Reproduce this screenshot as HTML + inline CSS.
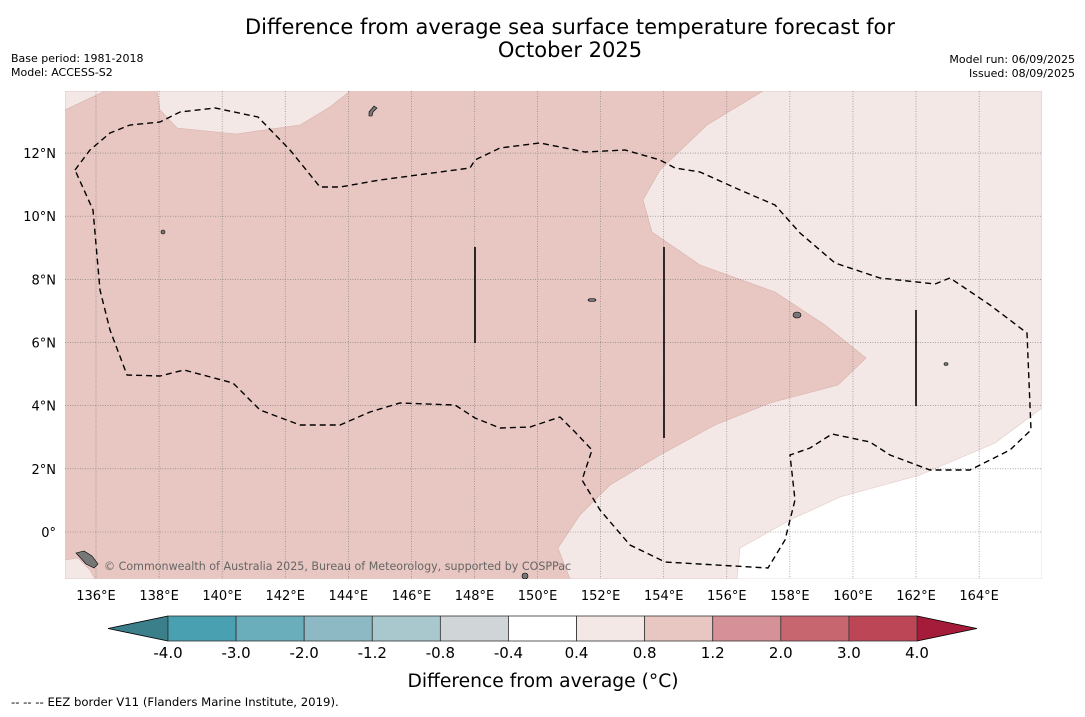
<!DOCTYPE html>
<html><head><meta charset="utf-8"><style>
body{margin:0;background:#fff;width:1085px;height:713px;overflow:hidden;font-family:"DejaVu Sans","Liberation Sans",sans-serif}
</style></head><body>
<svg width="1085" height="713" viewBox="0 0 1085 713" xmlns="http://www.w3.org/2000/svg" font-family="DejaVu Sans, Liberation Sans, sans-serif">
<text x="570" y="34" font-size="21" text-anchor="middle">Difference from average sea surface temperature forecast for</text>
<text x="570" y="57" font-size="21" text-anchor="middle">October 2025</text>
<text x="11" y="62" font-size="11">Base period: 1981-2018</text>
<text x="11" y="76" font-size="11">Model: ACCESS-S2</text>
<text x="1075" y="63" font-size="11" text-anchor="end">Model run: 06/09/2025</text>
<text x="1075" y="77" font-size="11" text-anchor="end">Issued: 08/09/2025</text>
<defs><clipPath id="mc"><rect x="65" y="91" width="977" height="488"/></clipPath></defs>
<g clip-path="url(#mc)" id="map">
<rect x="65" y="91" width="977" height="488" fill="#e8c7c2"/>
<polygon fill="#f4e8e6" stroke="#d8b0ab" stroke-width="0.6" points="763,91 707,125 660,170 643,200 652,232 700,265 775,292 825,325 866,358 838,385 770,403 715,425 660,455 610,485 580,515 558,548 570,579 1042,579 1042,91"/>
<polygon fill="#ffffff" stroke="#e0c8c4" stroke-width="0.6" points="737,579 740,548 790,520 840,497 920,475 995,443 1042,408 1042,579"/>
<polygon fill="#f4e8e6" stroke="#d8b0ab" stroke-width="0.6" points="65,110 105,91 65,91"/>
<polygon fill="#f4e8e6" stroke="#d8b0ab" stroke-width="0.6" points="157,91 160,110 177,128 236,134 300,125 330,107 350,91"/>
<polygon fill="#f4e8e6" stroke="#d8b0ab" stroke-width="0.6" points="65,560 78,558 90,570 95,579 65,579"/>
<g id="grid" stroke="#777" stroke-width="0.6" stroke-dasharray="1,1.5"></g>
<polygon fill="none" stroke="#000" stroke-width="1.4" stroke-dasharray="6,4" points="75,170 90,150 110,133 130,125 160,122 180,112 215,108 258,117 290,150 320,187 340,187 380,180 470,168 475,160 500,148 540,143 585,152 625,150 660,160 675,168 700,172 740,190 775,205 800,233 835,263 880,278 935,284 950,278 990,305 1027,333 1031,430 1010,450 970,470 930,470 890,455 870,442 832,434 810,448 790,455 795,500 785,540 768,568 665,562 630,545 600,510 582,480 592,450 575,432 560,417 530,427 500,428 475,418 455,405 400,403 370,412 340,425 300,425 260,410 233,383 184,370 160,376 127,375 110,330 100,290 93,210"/>
<line x1="475" y1="247" x2="475" y2="343" stroke="#000" stroke-width="1.6"/>
<line x1="664" y1="247" x2="664" y2="438" stroke="#000" stroke-width="1.6"/>
<line x1="916" y1="310" x2="916" y2="406" stroke="#000" stroke-width="1.6"/>
<g fill="#777" stroke="#000" stroke-width="0.6">
<path d="M369,112 l5,-6 l3,2 l-4,4 l-1,4 l-3,0z"/>
<path d="M76,553 l8,-2 l8,5 l6,8 l-4,4 l-8,-4z"/>
<ellipse cx="797" cy="315" rx="4" ry="3"/>
<ellipse cx="592" cy="300" rx="4" ry="1.5"/>
<ellipse cx="163" cy="232" rx="2" ry="2"/>
<ellipse cx="946" cy="364" rx="2" ry="1.5"/>
<ellipse cx="525" cy="576" rx="3" ry="3"/>
</g>
<text x="104" y="570" font-size="11.1" fill="#666">© Commonwealth of Australia 2025, Bureau of Meteorology, supported by COSPPac</text>
</g>
<g id="axes"></g>
<g id="cbar"></g>
<text x="543" y="687" font-size="18.7" text-anchor="middle">Difference from average (°C)</text>
<text x="11" y="706" font-size="11.7">-- -- -- EEZ border V11 (Flanders Marine Institute, 2019).</text>
</svg>
<script>
const lonTicks=[136,138,140,142,144,146,148,150,152,154,156,158,160,162,164];
const latTicks=[12,10,8,6,4,2,0];
const cbarLevels=["-4.0","-3.0","-2.0","-1.2","-0.8","-0.4","0.4","0.8","1.2","2.0","3.0","4.0"];
const cbarColors=["#48a0b0","#6aaebb","#8cb9c4","#a9c8cd","#d0d6d8","#ffffff","#f4e8e6","#e8c7c2","#d69098","#c8666f","#bd4656"];
const NS="http://www.w3.org/2000/svg";
const xLon=l=>96+(l-136)*31.54;
const yLat=l=>532-l*31.58;
function mk(t,a,p){const e=document.createElementNS(NS,t);for(const k in a)e.setAttribute(k,a[k]);p.appendChild(e);return e;}
const grid=document.getElementById('grid'),axes=document.getElementById('axes');
lonTicks.forEach(l=>{const x=xLon(l);
const g=mk('line',{x1:x,x2:x,y1:91,y2:579},grid);


const t=mk('text',{x:x,y:600,'font-size':13,'text-anchor':'middle'},axes);t.textContent=l+'°E';

});
latTicks.forEach(l=>{const y=yLat(l);
const g=mk('line',{x1:65,x2:1042,y1:y,y2:y},grid);


const t=mk('text',{x:56,y:y+5,'font-size':13,'text-anchor':'end'},axes);t.textContent=l===0?'0°':l+'°N';

});
const cb=document.getElementById('cbar');const x0=168,x1=917,w=(x1-x0)/cbarColors.length,y0=616,h=25;
const lt=mk('polygon',{points:`108,${y0+h/2} ${x0},${y0} ${x0},${y0+h}`,fill:'#3a7f8a',stroke:'#000','stroke-width':0.8},cb);


const rt=mk('polygon',{points:`977,${y0+h/2} ${x1},${y0} ${x1},${y0+h}`,fill:'#a51c3a',stroke:'#000','stroke-width':0.8},cb);


cbarColors.forEach((c,i)=>{const r=mk('rect',{x:x0+i*w,y:y0,width:w,height:h,fill:c,stroke:'#333','stroke-width':0.8},cb);

});
cbarLevels.forEach((v,i)=>{const t=mk('text',{x:x0+i*w,y:658,'font-size':15,'text-anchor':'middle'},cb);t.textContent=v;

});
</script>
</body></html>
